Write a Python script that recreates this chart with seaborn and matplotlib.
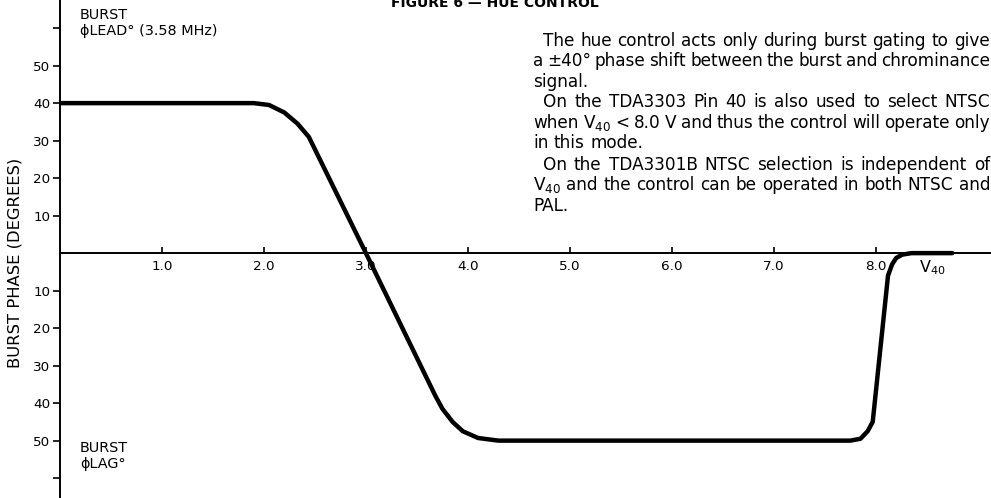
import numpy as np
import pandas as pd
import matplotlib
matplotlib.use("Agg")
import matplotlib.pyplot as plt
import seaborn as sns

# Curve (hue control transfer curve)
v40 = [0.0, 1.5, 1.9, 2.05, 2.2, 2.33, 2.44, 3.0, 3.68, 3.75, 3.85, 3.95,
       4.1, 4.3, 7.75, 7.85, 7.92, 7.97, 8.12, 8.16, 8.2, 8.26, 8.35, 8.75]
phase = [40, 40, 40, 39.5, 37.5, 34.5, 31.0, 0, -38, -41.5, -45, -47.5,
         -49.3, -50, -50, -49.5, -47.5, -45, -6, -3, -1.3, -0.4, 0, 0]

ytick_vals = [60, 50, 40, 30, 20, 10, -10, -20, -30, -40, -50, -60]
ytick_labels = ["", "50", "40", "30", "20", "10", "10", "20", "30", "40", "50", ""]
xtick_vals = [1, 2, 3, 4, 5, 6, 7, 8]
xtick_labels = ["1.0", "2.0", "3.0", "4.0", "5.0", "6.0", "7.0", "8.0"]

# paragraph lines: (text, indented, justified)
para_lines = [
    ("The hue control acts only during burst gating to give", True, True),
    ("a \u00b140\u00b0 phase shift between the burst and chrominance", False, True),
    ("signal.", False, False),
    ("On the TDA3303 Pin 40 is also used to select NTSC", True, True),
    ("when V$_{40}$ < 8.0 V and thus the control will operate only", False, True),
    ("in this mode.", False, False),
    ("On the TDA3301B NTSC selection is independent of", True, True),
    ("V$_{40}$ and the control can be operated in both NTSC and", False, True),
    ("PAL.", False, False),
]
para_y = [41, 61, 82, 102, 123, 143, 165, 185, 206]

sns.set_style("white")
plt.rcParams["font.family"] = ["DejaVu Sans"]
plt.rcParams["text.color"] = "black"

W, H = 991, 498
fig = plt.figure(figsize=(W / 100, H / 100), dpi=100)
ax = fig.add_axes([60 / W, 0, 1 - 60 / W, 1])

df = pd.DataFrame({"v40": v40, "phase": phase})
sns.lineplot(data=df, x="v40", y="phase", sort=False, color="black",
             linewidth=3.2, ax=ax, solid_capstyle="round", solid_joinstyle="round")

ax.set_xlim(0, 9.13)
ax.set_ylim(-65.3, 67.5)
ax.spines["top"].set_visible(False)
ax.spines["right"].set_visible(False)
ax.spines["bottom"].set_position(("data", 0))
ax.spines["left"].set_position(("data", 0))
for s in ("bottom", "left"):
    ax.spines[s].set_linewidth(1.4)
    ax.spines[s].set_color("black")

ax.set_yticks(ytick_vals)
ax.set_yticklabels(ytick_labels)
ax.set_xticks(xtick_vals)
ax.set_xticklabels(xtick_labels)
ax.tick_params(axis="y", direction="out", length=5, width=1.2, pad=2,
               labelsize=9.7, colors="black", left=True)
ax.tick_params(axis="x", direction="in", length=4, width=1.2, pad=5,
               labelsize=9.7, colors="black", bottom=True)
ax.set_xlabel("")
ax.set_ylabel("")


def px(x, y):
    return x / W, 1 - y / H


fig.text(*px(15, 263), "BURST PHASE (DEGREES)", rotation=90, ha="center",
         va="center", fontsize=11.8)
fig.text(*px(80, 8), "BURST\n\u03d5LEAD\u00b0 (3.58 MHz)", ha="left", va="top",
         fontsize=10.4, linespacing=1.2)
fig.text(*px(80, 441), "BURST\n\u03d5LAG\u00b0", ha="left", va="top",
         fontsize=10.4, linespacing=1.2)
fig.text(*px(932, 268), "V$_{40}$", ha="center", va="center", fontsize=11.5)
fig.text(*px(495, 7), "FIGURE 6 \u2014 HUE CONTROL", ha="center",
         va="baseline", fontsize=10, fontweight="bold")

# justified paragraph on the right
fig.canvas.draw()
renderer = fig.canvas.get_renderer()
left, right, indent, fs = 533, 990, 10, 12.2
space = 0.318 * fs * 100 / 72
for (line, ind, just), yy in zip(para_lines, para_y):
    words = line.split(" ")
    texts = [fig.text(0, 0, w, ha="left", va="center", fontsize=fs) for w in words]
    widths = [t.get_window_extent(renderer).width for t in texts]
    x0 = left + (indent if ind else 0)
    if just and len(words) > 1:
        gap = (right - x0 - sum(widths)) / (len(words) - 1)
    else:
        gap = space
    x = x0
    for t, w in zip(texts, widths):
        t.set_position(px(x, yy))
        x += w + gap

fig.savefig("out.png", dpi=100, facecolor="white")
